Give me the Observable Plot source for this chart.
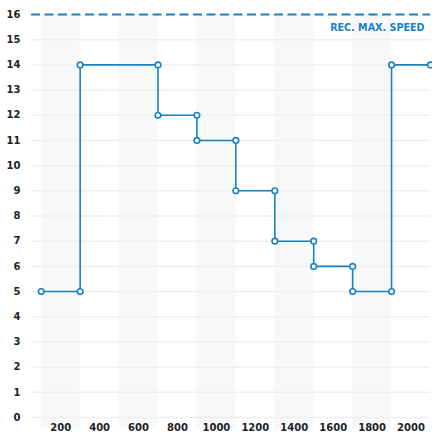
<!DOCTYPE html>
<html>
<head>
<meta charset="utf-8">
<script src="https://cdn.jsdelivr.net/npm/d3@7"></script>
<script src="https://cdn.jsdelivr.net/npm/@observablehq/plot@0.6"></script>
<style>
  html, body { margin: 0; padding: 0; background: #fff; }
  #chart svg { display: block; }
</style>
</head>
<body>
<div id="chart"></div>
<script>
// Step series: distance (x) and speed (y)
const distances = [100, 300, 300, 700, 700, 900, 900, 1100, 1100, 1300, 1300, 1500, 1500, 1700, 1700, 1900, 1900, 2100];
const speeds    = [5,   5,   14,  14,  12,  12,  11,  11,   9,    9,    7,    7,    6,    6,    5,    5,    14,   14];
const xTicks = [200, 400, 600, 800, 1000, 1200, 1400, 1600, 1800, 2000];
const yTicks = d3.range(0, 17);
const bandStarts = [100, 500, 900, 1300, 1700];
const bandWidth = 200;
const maxSpeed = 16;
const maxSpeedLabel = "REC. MAX. SPEED";

const points = distances.map((d, i) => ({x: d, y: speeds[i]}));
const bands = bandStarts.map(s => ({x1: s, x2: s + bandWidth}));

const blue = "#1a80c4";
const font = "'DejaVu Sans', sans-serif";

const chart = Plot.plot({
  width: 432,
  height: 435,
  marginLeft: 31,
  marginRight: 2,
  marginTop: 14,
  marginBottom: 18,
  style: {fontFamily: font, fontSize: "10px", fontWeight: "bold", color: "#1c2328", background: "#fff"},
  x: {domain: [50, 2100]},
  y: {domain: [0, 16]},
  marks: [
    Plot.rect(bands, {x1: "x1", x2: "x2", y1: -0.45, y2: maxSpeed, fill: "#f7f9f9"}),
    Plot.ruleY(yTicks.filter(d => d < maxSpeed), {stroke: "#efefef", strokeWidth: 1.5}),
    Plot.ruleY([maxSpeed], {stroke: blue, strokeWidth: 2, strokeDasharray: "9,4.5"}),
    Plot.text([maxSpeedLabel], {x: 2100, y: 15.48, textAnchor: "end", dx: -6, fill: blue, fontSize: 9.6, fontWeight: "bold"}),
    Plot.axisY({ticks: yTicks, tickSize: 0, tickPadding: 11, label: null, fontSize: 10}),
    Plot.axisX({ticks: xTicks, tickSize: 0, tickPadding: 6, label: null, fontSize: 10, tickFormat: d3.format("d")}),
    Plot.line(points, {x: "x", y: "y", stroke: blue, strokeWidth: 1.6}),
    Plot.dot(points, {x: "x", y: "y", r: 2.8, fill: "#fff", stroke: blue, strokeWidth: 1.6})
  ]
});
document.getElementById("chart").appendChild(chart);
</script>
</body>
</html>
